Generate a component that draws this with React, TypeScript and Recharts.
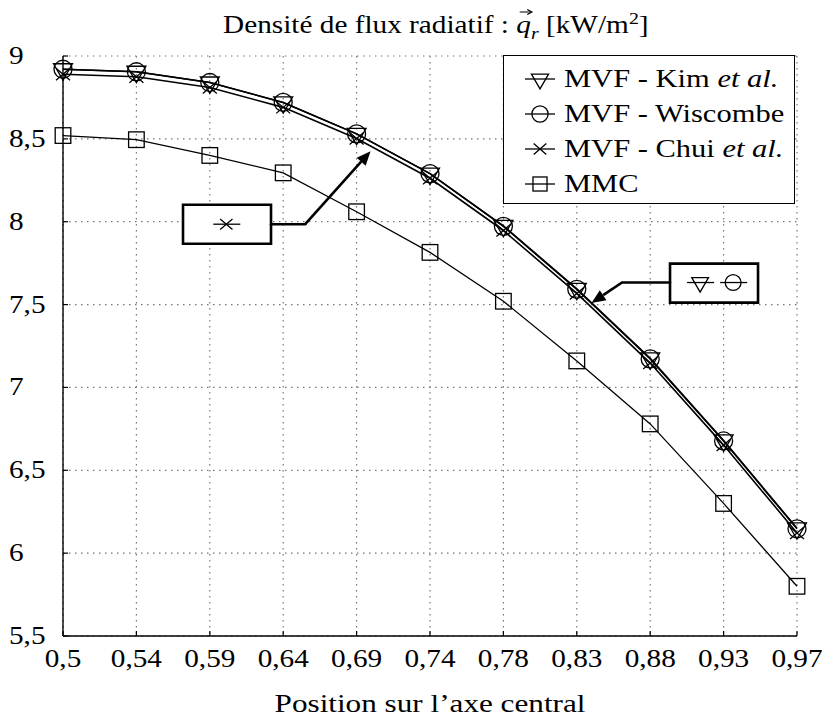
import {
  LineChart,
  Line,
  XAxis,
  YAxis,
  CartesianGrid,
  ReferenceArea,
  ReferenceLine,
  ReferenceDot,
} from "recharts";

const positions = ["0,5", "0,54", "0,59", "0,64", "0,69", "0,74", "0,78", "0,83", "0,88", "0,93", "0,97"];
const kim = [8.92, 8.905, 8.84, 8.72, 8.53, 8.29, 7.975, 7.595, 7.175, 6.68, 6.15];
const wiscombe = [8.92, 8.905, 8.84, 8.72, 8.53, 8.29, 7.972, 7.592, 7.172, 6.677, 6.147];
const chui = [8.89, 8.875, 8.81, 8.69, 8.502, 8.262, 7.947, 7.567, 7.147, 6.652, 6.122];
const mmc = [8.52, 8.495, 8.4, 8.295, 8.06, 7.815, 7.52, 7.16, 6.78, 6.3, 5.8];
const yTicks = [5.5, 6, 6.5, 7, 7.5, 8, 8.5, 9];
const xTicks = positions.map((_, i) => i);

const data = positions.map((label, i) => ({
  i,
  label,
  kim: kim[i],
  wiscombe: wiscombe[i],
  chui: chui[i],
  mmc: mmc[i],
}));

const serif = '"Liberation Serif", "Times New Roman", serif';

type Kind = "tri" | "circ" | "cross" | "sq";

function Mark({ kind, cx, cy, s = 1 }: { kind: Kind; cx: number; cy: number; s?: number }) {
  if (cx == null || cy == null) return null;
  const st = { fill: "none", stroke: "#000", strokeWidth: 1.3 };
  if (kind === "tri") {
    const h = 9.5 * s;
    return (
      <polygon
        points={`${cx - h},${cy - h * 0.58} ${cx + h},${cy - h * 0.58} ${cx},${cy + h * 1.15}`}
        {...st}
      />
    );
  }
  if (kind === "circ") return <circle cx={cx} cy={cy} r={9 * s} {...st} />;
  if (kind === "cross") {
    const a = 7 * s;
    const b = 6 * s;
    return (
      <path d={`M${cx - a},${cy - b}L${cx + a},${cy + b}M${cx - a},${cy + b}L${cx + a},${cy - b}`} {...st} />
    );
  }
  const q = 7.8 * s;
  return <rect x={cx - q} y={cy - q} width={2 * q} height={2 * q} {...st} />;
}

const series = [
  { key: "kim", kind: "tri" as Kind, name: "MVF - Kim", etal: true, width: 1.6 },
  { key: "wiscombe", kind: "circ" as Kind, name: "MVF - Wiscombe", etal: false, width: 1.6 },
  { key: "chui", kind: "cross" as Kind, name: "MVF - Chui", etal: true, width: 1.6 },
  { key: "mmc", kind: "sq" as Kind, name: "MMC", etal: false, width: 1.3 },
];

function XTick(props: any) {
  const { x, y, payload } = props;
  return (
    <g>
      <line x1={x} y1={y} x2={x} y2={y - 5} stroke="#000" strokeWidth={1.2} />
      <text
        transform={`translate(${x},${y + 31}) scale(1.17,1)`}
        textAnchor="middle"
        fontFamily={serif}
        fontSize={25}
        fill="#000"
      >
        {positions[payload.value]}
      </text>
    </g>
  );
}

function YTick(props: any) {
  const { x, y, payload } = props;
  return (
    <g>
      <line x1={x} y1={y} x2={x + 5} y2={y} stroke="#000" strokeWidth={1.2} />
      <text
        transform={`translate(${x - 54},${y + 8}) scale(1.17,1)`}
        textAnchor="start"
        fontFamily={serif}
        fontSize={25}
        fill="#000"
      >
        {String(payload.value).replace(".", ",")}
      </text>
    </g>
  );
}

function TopTick(props: any) {
  const { x, y } = props;
  return <line x1={x} y1={y} x2={x} y2={y + 5} stroke="#000" strokeWidth={1.2} />;
}

function RightTick(props: any) {
  const { x, y } = props;
  return <line x1={x} y1={y} x2={x - 5} y2={y} stroke="#000" strokeWidth={1.2} />;
}

function Arrow(props: any) {
  const { x1, y1, x2, y2 } = props;
  const ang = Math.atan2(y2 - y1, x2 - x1);
  const L = 14;
  const w = 6;
  const bx = x2 - L * Math.cos(ang);
  const by = y2 - L * Math.sin(ang);
  const px = -Math.sin(ang) * w;
  const py = Math.cos(ang) * w;
  return (
    <g>
      <line x1={x1} y1={y1} x2={bx} y2={by} stroke="#000" strokeWidth={2.6} />
      <polygon points={`${x2},${y2} ${bx + px},${by + py} ${bx - px},${by - py}`} fill="#000" />
    </g>
  );
}

function Seg(props: any) {
  const { x1, y1, x2, y2 } = props;
  return <line x1={x1} y1={y1} x2={x2} y2={y2} stroke="#000" strokeWidth={2.6} strokeLinecap="round" />;
}

function BoxSymbol({ kind }: { kind: Kind }) {
  return (props: any) => {
    const { cx, cy } = props;
    return (
      <g>
        <line x1={cx - 13} y1={cy} x2={cx + 14} y2={cy} stroke="#000" strokeWidth={1.3} />
        <Mark kind={kind} cx={cx} cy={cy} s={0.88} />
      </g>
    );
  };
}

function XLabel(props: any) {
  const { viewBox } = props;
  const cx = viewBox.x + viewBox.width / 2;
  return (
    <text
      transform={`translate(${cx},${viewBox.y + 76}) scale(1.2,1)`}
      textAnchor="middle"
      fontFamily={serif}
      fontSize={26}
      fill="#000"
    >
      Position sur l’axe central
    </text>
  );
}

function Legend() {
  return (
    <div
      style={{
        position: "absolute",
        left: 503,
        top: 55,
        width: 290,
        height: 147,
        border: "1.5px solid #000",
        background: "#fff",
        fontFamily: serif,
        fontSize: 25,
        boxSizing: "content-box",
      }}
    >
      {series.map((s, k) => (
        <div
          key={s.key}
          style={{ position: "absolute", left: 0, top: 6 + k * 35, height: 34, display: "flex", alignItems: "center" }}
        >
          <svg width={60} height={34} style={{ display: "block" }}>
            <line x1={21} y1={17} x2={51} y2={17} stroke="#000" strokeWidth={1.3} />
            <Mark kind={s.kind} cx={36} cy={17} s={0.9} />
          </svg>
          <span style={{ display: "inline-block", transform: "scaleX(1.22)", transformOrigin: "left center", whiteSpace: "nowrap", lineHeight: "34px" }}>
            {s.name}
            {s.etal ? (
              <>
                {" "}
                <i>et al.</i>
              </>
            ) : null}
          </span>
        </div>
      ))}
    </div>
  );
}

function Title() {
  return (
    <div
      style={{
        position: "absolute",
        left: 0,
        width: 872,
        top: 9,
        textAlign: "center",
        fontFamily: serif,
        fontSize: 25,
        whiteSpace: "nowrap",
      }}
    >
      <span style={{ display: "inline-block", transform: "scaleX(1.17)" }}>
        Densité de flux radiatif :{" "}
        <span style={{ position: "relative", display: "inline-block" }}>
          <svg width={12} height={8} style={{ position: "absolute", left: 2, top: -3 }}>
            <line x1={0.5} y1={4} x2={10} y2={4} stroke="#000" strokeWidth={1.1} />
            <path d="M7,1.5 L11,4 L7,6.5" fill="none" stroke="#000" strokeWidth={1.1} />
          </svg>
          <i>q</i>
          <sub style={{ fontSize: 17, fontStyle: "italic" }}>r</sub>
        </span>{" "}
        [kW/m<sup style={{ fontSize: 17 }}>2</sup>]
      </span>
    </div>
  );
}

export default function App() {
  return (
    <div style={{ position: "absolute", left: 0, top: 0, width: 822, height: 717, background: "#fff" }}>
      <LineChart width={822} height={717} data={data} margin={{ top: 56, right: 25, left: 0, bottom: 0 }}>
        <CartesianGrid stroke="#777" strokeWidth={1.2} strokeDasharray="1.5 4.5" />
        <XAxis
          dataKey="i"
          type="number"
          domain={[0, 10]}
          ticks={xTicks}
          interval={0}
          height={81}
          tickSize={0}
          tickMargin={0}
          tick={<XTick />}
          axisLine={{ stroke: "#000", strokeWidth: 1.4 }}
          tickLine={false}
          label={<XLabel />}
        />
        <XAxis
          xAxisId="top"
          orientation="top"
          dataKey="i"
          type="number"
          domain={[0, 10]}
          ticks={xTicks}
          interval={0}
          height={0}
          tickSize={0}
          tickMargin={0}
          tick={<TopTick />}
          axisLine={{ stroke: "#000", strokeWidth: 1.4 }}
          tickLine={false}
        />
        <YAxis
          type="number"
          domain={[5.5, 9]}
          ticks={yTicks}
          interval={0}
          width={63}
          tickSize={0}
          tickMargin={0}
          tick={<YTick />}
          axisLine={{ stroke: "#000", strokeWidth: 1.4 }}
          tickLine={false}
        />
        <YAxis
          yAxisId="right"
          orientation="right"
          type="number"
          domain={[5.5, 9]}
          ticks={yTicks}
          interval={0}
          width={0}
          tickSize={0}
          tickMargin={0}
          tick={<RightTick />}
          axisLine={{ stroke: "#000", strokeWidth: 1.4 }}
          tickLine={false}
        />
        {series.map((s) => (
          <Line
            key={s.key}
            dataKey={s.key}
            type="linear"
            stroke="#000"
            strokeWidth={s.width}
            isAnimationActive={false}
            dot={(p: any) => <Mark key={`${s.key}-${p.index}`} kind={s.kind} cx={p.cx} cy={p.cy} />}
            activeDot={false}
          />
        ))}
        <ReferenceArea x1={1.635} x2={2.834} y1={7.867} y2={8.102} fill="#fff" fillOpacity={1} stroke="#000" strokeWidth={2.6} />
        <ReferenceLine segment={[{ x: 2.834, y: 7.985 }, { x: 3.3, y: 7.985 }]} shape={<Seg />} />
        <ReferenceLine segment={[{ x: 3.3, y: 7.985 }, { x: 4.19, y: 8.425 }]} shape={<Arrow />} />
        <ReferenceDot x={2.225} y={7.985} r={0} shape={BoxSymbol({ kind: "cross" })} />
        <ReferenceArea x1={8.27} x2={9.469} y1={7.512} y2={7.747} fill="#fff" fillOpacity={1} stroke="#000" strokeWidth={2.6} />
        <ReferenceLine segment={[{ x: 8.27, y: 7.633 }, { x: 7.616, y: 7.633 }]} shape={<Seg />} />
        <ReferenceLine segment={[{ x: 7.616, y: 7.633 }, { x: 7.2, y: 7.51 }]} shape={<Arrow />} />
        <ReferenceDot x={8.68} y={7.633} r={0} shape={BoxSymbol({ kind: "tri" })} />
        <ReferenceDot x={9.13} y={7.633} r={0} shape={BoxSymbol({ kind: "circ" })} />
      </LineChart>
      <Legend />
      <Title />
    </div>
  );
}
